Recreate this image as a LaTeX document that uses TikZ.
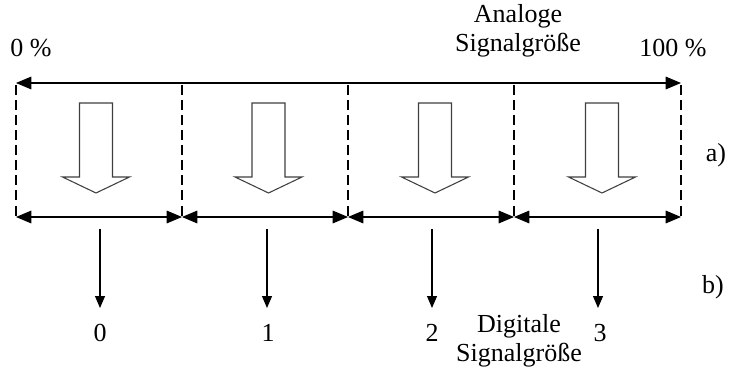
\documentclass[tikz,border=0pt]{standalone}
\usepackage{fontspec}
\setmainfont{Liberation Serif}
\usetikzlibrary{arrows.meta}

\tikzset{
  txt/.style={font=\fontsize{19.5pt}{22pt}\selectfont, inner sep=0pt, align=center},
  spanarrow/.style={line width=0.8pt, {Triangle[length=11.5pt,width=9.5pt]}-{Triangle[length=11.5pt,width=9.5pt]}},
  boundary/.style={line width=0.8pt, dash pattern=on 7.5pt off 3.8pt},
  hollow/.style={line width=0.8pt, draw=black!75, fill=white},
  outarrow/.style={line width=0.8pt, -{Triangle[length=9pt,width=7.5pt]}}
}

% hollow block arrow, #1 = top centre of the shaft
\newcommand{\downblock}[1]{%
  \draw[hollow] (#1) ++(-16.5,0) -- ++(0,74) -- ++(-17,0) -- ++(33.5,16)
    -- ++(33.5,-16) -- ++(-17,0) -- ++(0,-74) -- cycle;}

\begin{document}
\begin{tikzpicture}[x=0.75pt, y=-0.75pt]
    \useasboundingbox (0,0) rectangle (734,370);

% analog scale
    \coordinate (A0) at (16,83);
    \coordinate (A4) at (681,83);
    \coordinate (T0) at (16,85);
    \coordinate (T1) at (182,85);
    \coordinate (T2) at (348,85);
    \coordinate (T3) at (514,85);
    \coordinate (T4) at (681,85);
    \coordinate (B0) at (16,217);
    \coordinate (B1) at (182,217);
    \coordinate (B2) at (348,217);
    \coordinate (B3) at (514,217);
    \coordinate (B4) at (681,217);

    \node[txt] (pct0) at (31,48) {0 \%};
    \node[txt] (pct100) at (673,48) {100 \%};
    \node[txt] (analog) at (518,31) {Analoge\\Signalgröße};
    \node[txt] (lbla) at (716,155) {a)};

    \draw[spanarrow] (A0) -- (A4);

    \draw[boundary] (T0) -- (B0);
    \draw[boundary] (T1) -- (B1);
    \draw[boundary] (T2) -- (B2);
    \draw[boundary] (T3) -- (B3);
    \draw[boundary] (T4) -- (B4);

    \coordinate (K0) at (96,103);
    \coordinate (K1) at (268.5,103);
    \coordinate (K2) at (435,103);
    \coordinate (K3) at (602,103);
    \downblock{K0}
    \downblock{K1}
    \downblock{K2}
    \downblock{K3}

    \draw[spanarrow] (B0) -- (B1);
    \draw[spanarrow] (B1) -- (B2);
    \draw[spanarrow] (B2) -- (B3);
    \draw[spanarrow] (B3) -- (B4);

% digital values
    \coordinate (S0) at (100,229);
    \coordinate (S1) at (267,229);
    \coordinate (S2) at (432,229);
    \coordinate (S3) at (598,229);
    \coordinate (E0) at (100,308);
    \coordinate (E1) at (267,308);
    \coordinate (E2) at (432,308);
    \coordinate (E3) at (598,308);

    \draw[outarrow] (S0) -- (E0);
    \draw[outarrow] (S1) -- (E1);
    \draw[outarrow] (S2) -- (E2);
    \draw[outarrow] (S3) -- (E3);

    \node[txt] (d0) at (100,333) {0};
    \node[txt] (d1) at (268,333) {1};
    \node[txt] (d2) at (432,333) {2};
    \node[txt] (d3) at (600,333) {3};
    \node[txt] (digital) at (519,341) {Digitale\\Signalgröße};
    \node[txt] (lblb) at (713,287) {b)};

\end{tikzpicture}
\end{document}
